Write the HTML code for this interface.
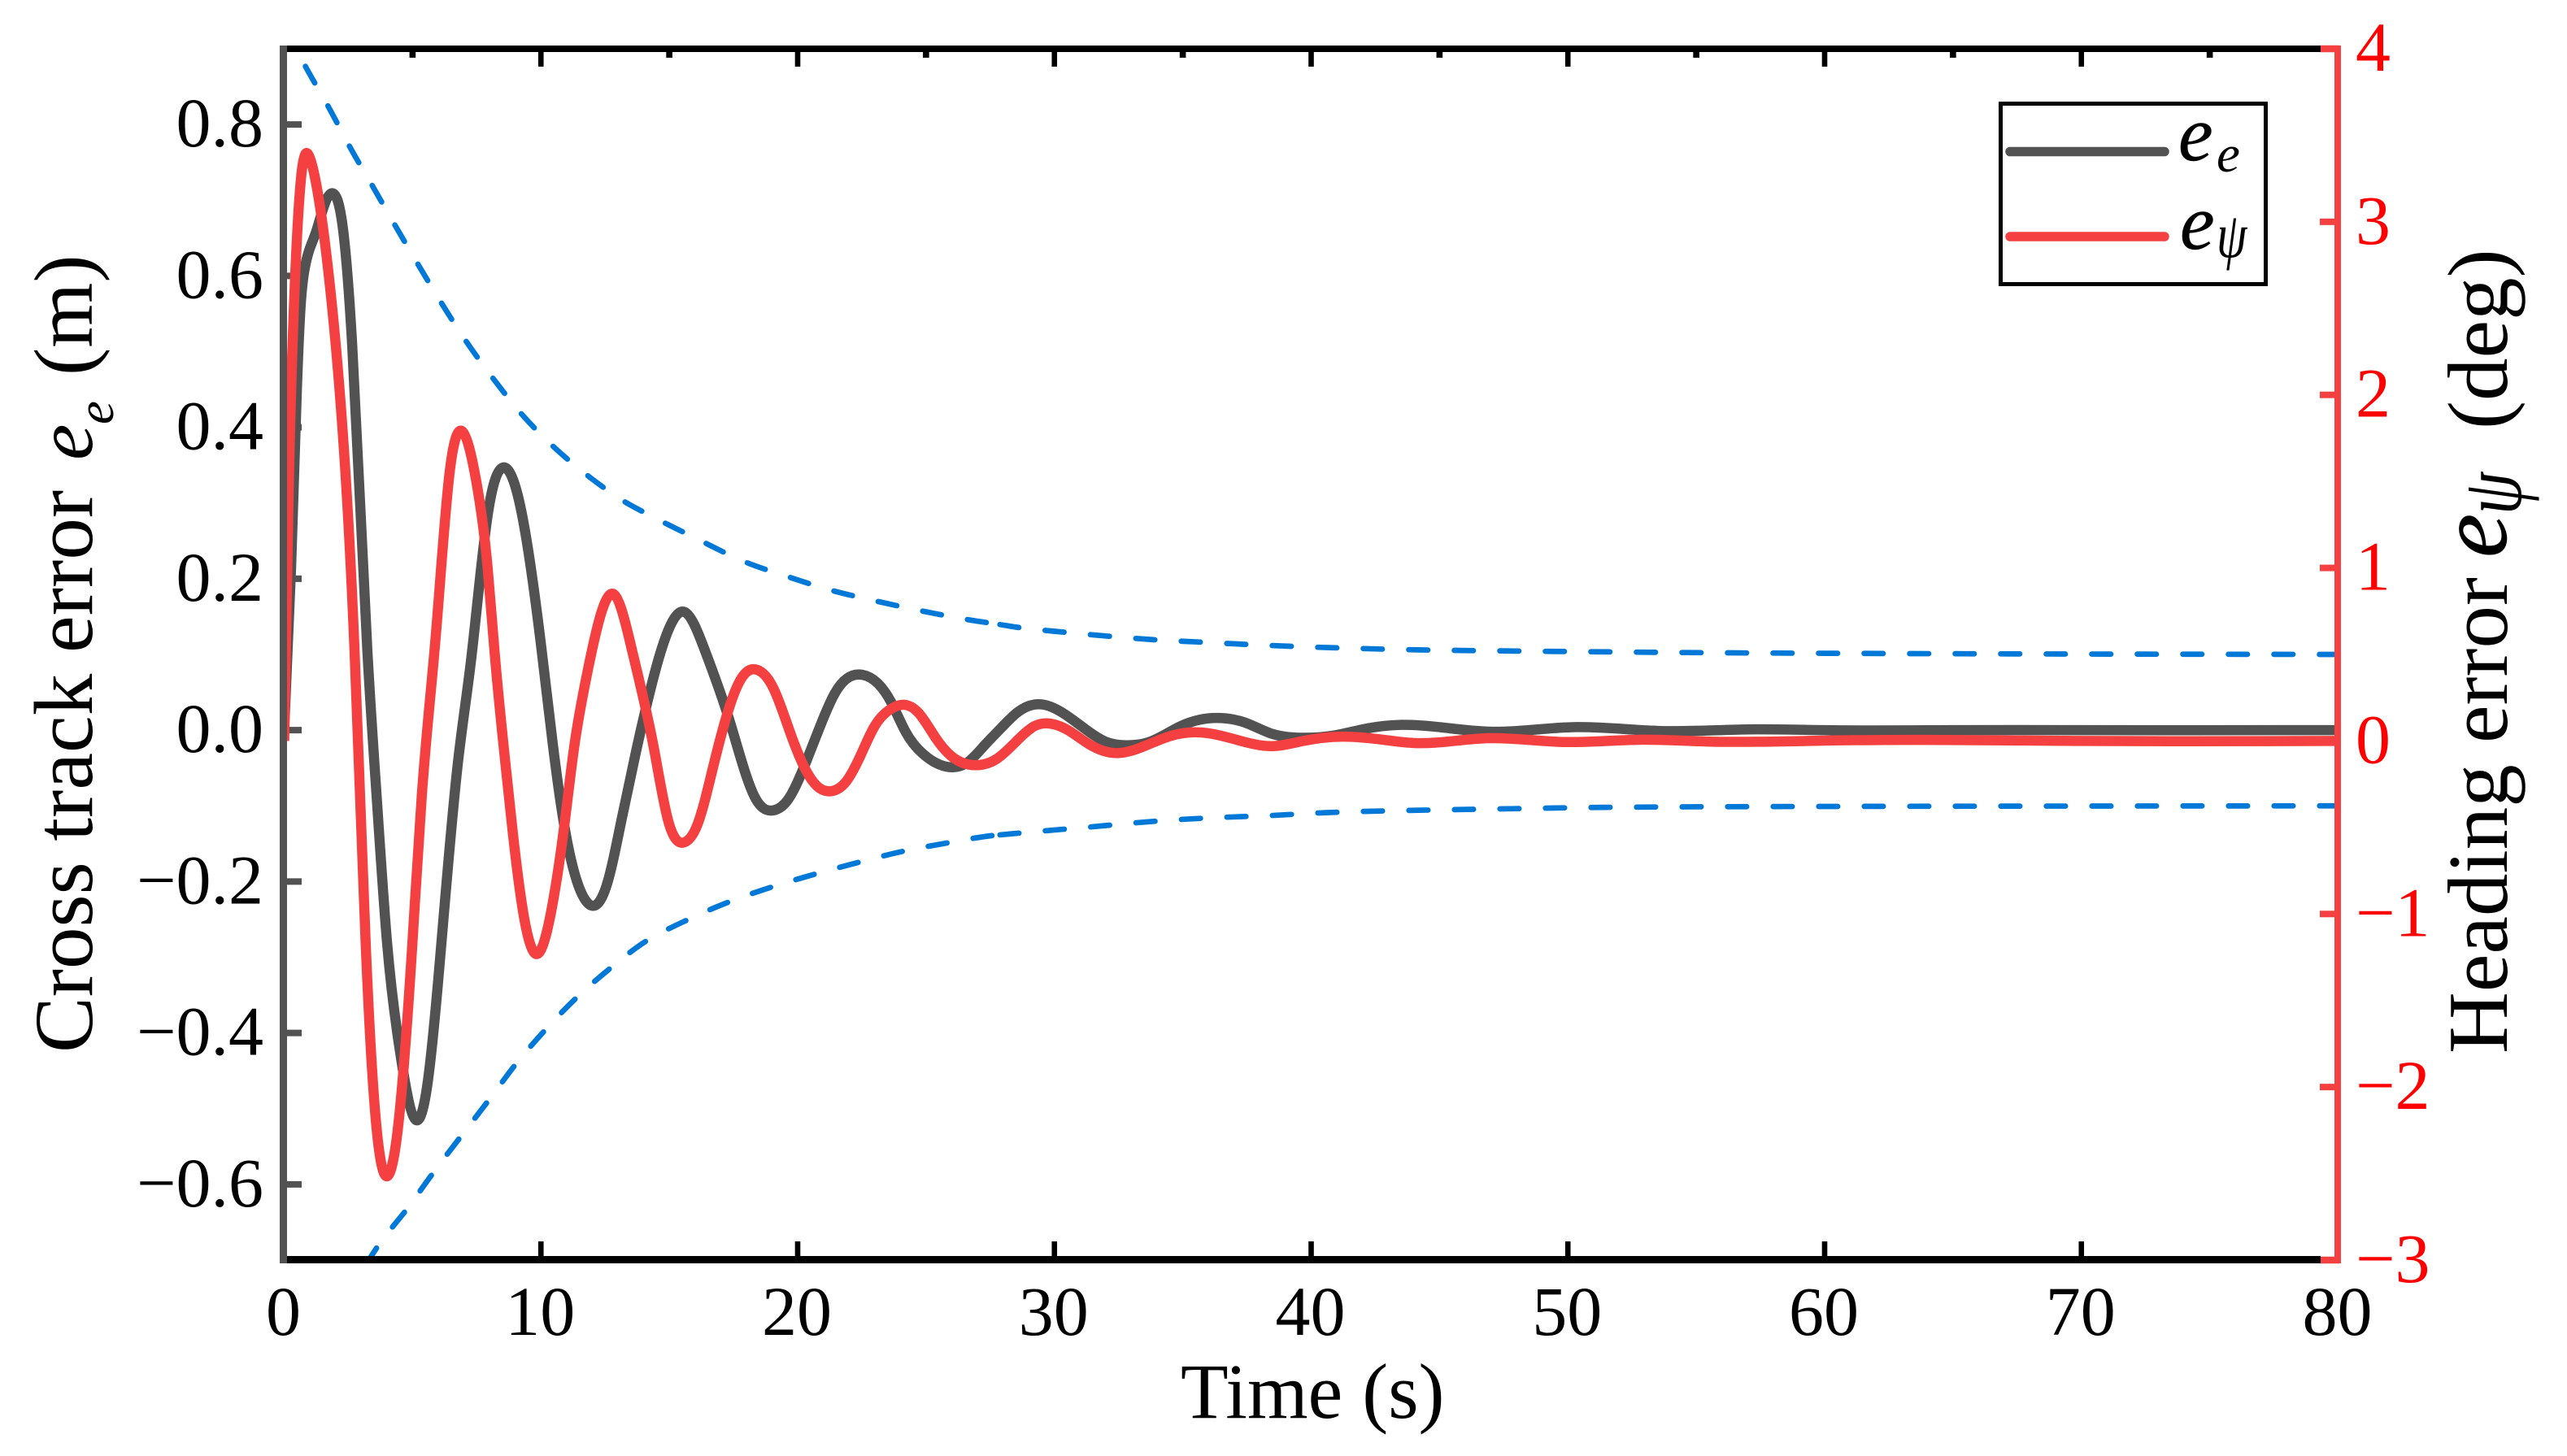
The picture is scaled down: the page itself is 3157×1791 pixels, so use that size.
<!DOCTYPE html>
<html lang="en">
<head>
<meta charset="utf-8">
<title>Cross track error and heading error over time</title>
<style>
html,body{margin:0;padding:0;background:#fff;}
svg{display:block;}
text{font-family:"Liberation Serif","DejaVu Serif",serif;fill:#000;}
</style>
</head>
<body>
<svg id="chart" xmlns="http://www.w3.org/2000/svg" width="3157" height="1791" viewBox="0 0 3157 1791">
  <defs>
    <clipPath id="plot-clip"><rect x="349" y="60" width="2526" height="1490"/></clipPath>
  </defs>
  <rect x="0" y="0" width="3157" height="1791" fill="#fff"/>
  <g id="ticks"></g>
  <g id="series" clip-path="url(#plot-clip)"></g>
  <g id="spines"></g>
  <g id="labels"></g>

  <g>
    <text transform="translate(113,1295) rotate(-90)" font-size="103">Cross track error</text>
    <text transform="translate(113,566) rotate(-90)" font-size="100" font-style="italic">e</text>
    <text transform="translate(139,522) rotate(-90)" font-size="65" font-style="italic">e</text>
    <text transform="translate(113,462) rotate(-90)" font-size="103">(m)</text>
  </g>
  <g>
    <text transform="translate(3083,1296) rotate(-90)" font-size="105">Heading error</text>
    <text transform="translate(3082,686) rotate(-90)" font-size="122" font-style="italic" stroke="#000" stroke-width="0.6">e</text>
    <text transform="translate(3100,633) rotate(-90) scale(0.95,1.2)" font-size="88" font-style="italic">ψ</text>
    <text transform="translate(3083,528) rotate(-90)" font-size="105">(deg)</text>
  </g>
  <text x="1452" y="1744" font-size="96">Time (s)</text>

  <g>
    <rect x="2460.5" y="127.5" width="326" height="222" fill="#fff" stroke="#000" stroke-width="5"/>
    <line x1="2472" y1="186.5" x2="2662" y2="186.5" stroke="#525252" stroke-width="11.5" stroke-linecap="round"/>
    <line x1="2472" y1="291" x2="2662" y2="291" stroke="#F44040" stroke-width="11.5" stroke-linecap="round"/>
    <text x="2679" y="197" font-size="96" font-style="italic" stroke="#000" stroke-width="0.5">e</text>
    <text x="2726" y="211" font-size="65" font-style="italic">e</text>
    <text x="2681" y="306" font-size="96" font-style="italic" stroke="#000" stroke-width="0.5">e</text>
    <text transform="translate(2726,316) scale(1,1.3)" font-size="60" font-style="italic">ψ</text>
  </g>
</svg>
<script>
// ---- axis tick values ----
const xTickValues = [0, 10, 20, 30, 40, 50, 60, 70, 80];
const xTickLabels = ['0', '10', '20', '30', '40', '50', '60', '70', '80'];
const xTopMinorValues = [5, 15, 25, 35, 45, 55, 65, 75];
const leftTickValues = [0.8, 0.6, 0.4, 0.2, 0.0, -0.2, -0.4, -0.6];
const leftTickLabels = ['0.8', '0.6', '0.4', '0.2', '0.0', '\u22120.2', '\u22120.4', '\u22120.6'];
const rightTickValues = [4, 3, 2, 1, 0, -1, -2, -3];
const rightTickLabels = ['4', '3', '2', '1', '0', '\u22121', '\u22122', '\u22123'];

// ---- cross track error e_e (m) ----
const crossTrackTime = [0, .27, .49, .64, .8, 1.22, 1.6, 1.9, 2.25, 2.65, 3.24, 3.6, 4.0, 4.5, 5.13, 5.57, 6.0, 6.76, 7.27, 7.93, 8.53, 9.1, 9.6, 10.03, 10.45, 10.88, 11.65, 12.05, 12.55, 13.13, 13.7, 14.68, 15.6, 16.39, 17.37, 18.37, 19.05, 19.64, 20.35, 20.92, 21.47, 22.53, 23.64, 24.2, 24.87, 25.98, 26.64, 27.28, 27.93, 28.58, 29.5, 30.36, 31.18, 31.98, 32.86, 33.75, 34.9, 36.5, 37.5, 38.4, 39.6, 40.9, 42.0, 43.5, 45, 46.9, 50.3, 53.5, 57, 60, 65, 70, 80];
const crossTrackError = [0, .216, .446, .56, .61, .656, .697, .709, .672, .508, .105, -.087, -.278, -.422, -.515, -.47, -.33, -.045, .09, .285, .347, .31, .216, .105, -.015, -.12, -.22, -.232, -.206, -.12, -.029, .105, .156, .105, .01, -.091, -.106, -.091, -.04, .009, .05, .073, .037, -.002, -.031, -.049, -.042, -.02, .003, .024, .034, .022, .002, -.015, -.02, -.015, .005, .016, .009, -.004, -.01, -.007, .001, .007, .004, -.002, .004, -.001, .001, 0, 0, 0, 0];

// ---- heading error e_psi (deg) ----
const headingTime = [0, .18, .39, .7, .97, 1.22, 1.81, 2.34, 2.74, 3.17, 3.65, 3.99, 4.37, 5.0, 5.36, 5.9, 6.44, 6.95, 7.51, 7.92, 8.19, 8.6, 8.9, 9.32, 9.86, 10.45, 10.88, 11.3, 11.72, 12.35, 12.85, 13.55, 14.41, 14.96, 15.6, 16.1, 16.68, 17.24, 17.8, 18.44, 19.07, 19.68, 20.25, 20.75, 21.32, 21.87, 22.44, 23.0, 23.58, 24.14, 24.71, 25.36, 25.98, 26.9, 27.77, 28.58, 29.23, 29.85, 30.52, 31.33, 32.45, 33.57, 34.56, 35.5, 36.5, 37.47, 38.4, 39.7, 41.2, 42.8, 44, 46.9, 49.8, 52.7, 55.4, 60, 70, 80];
const headingError = [0, 1.477, 2.55, 3.31, 3.38, 3.24, 2.59, 1.655, .523, -1.154, -2.31, -2.516, -2.31, -1.154, -.316, .6, 1.547, 1.787, 1.477, 1.007, .523, -.106, -.524, -1.0, -1.231, -.945, -.524, -.03, .33, .74, .847, .523, -.05, -.463, -.585, -.482, -.167, .148, .36, .41, .30, .06, -.149, -.26, -.29, -.238, -.087, .086, .18, .209, .162, .021, -.087, -.14, -.102, .007, .086, .1, .063, -.017, -.07, -.026, .03, .05, .03, -.008, -.03, 0, .025, .007, -.012, .016, -.006, .007, -.003, .002, 0, 0];

// ---- prescribed performance envelope (m) ----
const upperBoundTime = [0, .855, 1.73, 2.58, 3.47, 4.35, 5.27, 6.22, 7.14, 8.15, 9.26, 10.47, 11.83, 13.25, 14, 16, 18.04, 19.68, 21.39, 23.12, 24.9, 26.62, 28.74, 30.5, 32.3, 34.08, 35.85, 37.64, 39.4, 41.2, 44.2, 51.1, 55.3, 60, 70, 80];
const upperBound = [.93, .875, .823, .769, .717, .665, .612, .559, .511, .464, .417, .375, .336, .302, .288, .254, .221, .202, .184, .170, .157, .146, .135, .129, .1235, .119, .116, .113, .1105, .1085, .106, .1035, .1023, .1015, .1005, .1];
const lowerBoundTime = [0, 3.56, 4.86, 5.84, 6.92, 8.03, 9.07, 10.17, 11.37, 12.72, 14.13, 15.68, 17.24, 18.92, 20.59, 22.33, 24.11, 25.83, 27.65, 29.63, 31.37, 33.14, 34.92, 36.69, 38.43, 40.22, 42, 47.8, 51.4, 54.8, 60, 70, 80];
const lowerBound = [-.92, -.686, -.629, -.583, -.535, -.486, -.439, -.396, -.354, -.314, -.278, -.251, -.228, -.208, -.191, -.175, -.160, -.149, -.139, -.133, -.128, -.1225, -.118, -.115, -.1128, -.1095, -.1074, -.1038, -.102, -.1013, -.1008, -.1003, -.1];

// ---- axis functions ----
const plotLeft = 349.5, plotRight = 2875.5, plotTop = 60, plotBottom = 1550;
const boundBreakTime = 27.88;
function xScale(t) { return plotLeft + (t - 0) / (80 - 0) * (plotRight - plotLeft); }
function yLeft(v) { return plotBottom - (v - (-0.7)) / (0.9 - (-0.7)) * (plotBottom - plotTop); }
function yRight(v) { return plotBottom - (v - (-3)) / (4 - (-3)) * (plotBottom - plotTop); }

const NS = 'http://www.w3.org/2000/svg';
function make(tag, attrs, parent) {
  const el = document.createElementNS(NS, tag);
  for (const k in attrs) el.setAttribute(k, attrs[k]);
  parent.appendChild(el);
  return el;
}

function hermitePath(px, py, m) {
  let s = 'M' + px[0].toFixed(2) + ' ' + py[0].toFixed(2);
  for (let i = 0; i < px.length - 1; i++) {
    const h = (px[i + 1] - px[i]) / 3;
    s += 'C' + (px[i] + h).toFixed(2) + ' ' + (py[i] + m[i] * h).toFixed(2) + ' ' +
      (px[i + 1] - h).toFixed(2) + ' ' + (py[i + 1] - m[i + 1] * h).toFixed(2) + ' ' +
      px[i + 1].toFixed(2) + ' ' + py[i + 1].toFixed(2);
  }
  return s;
}

// monotone cubic path (envelope lines)
function monotonePath(px, py) {
  const n = px.length;
  if (n < 2) return '';
  const d = [], m = new Array(n);
  for (let i = 0; i < n - 1; i++) d.push((py[i + 1] - py[i]) / (px[i + 1] - px[i]));
  m[0] = d[0];
  m[n - 1] = d[n - 2];
  for (let i = 1; i < n - 1; i++) {
    if (d[i - 1] * d[i] <= 0) { m[i] = 0; continue; }
    const h0 = px[i] - px[i - 1], h1 = px[i + 1] - px[i];
    const w1 = 2 * h1 + h0, w2 = h1 + 2 * h0;
    m[i] = (w1 + w2) / (w1 / d[i - 1] + w2 / d[i]);
  }
  return hermitePath(px, py, m);
}

// C2 natural cubic spline path (oscillating response lines)
function splinePath(px, py) {
  const n = px.length;
  const a = new Array(n).fill(0), b = new Array(n).fill(0), c = new Array(n).fill(0), r = new Array(n).fill(0);
  const h = [], d = [];
  for (let i = 0; i < n - 1; i++) { h.push(px[i + 1] - px[i]); d.push((py[i + 1] - py[i]) / h[i]); }
  b[0] = 2; c[0] = 1; r[0] = 3 * d[0];
  b[n - 1] = 2; a[n - 1] = 1; r[n - 1] = 3 * d[n - 2];
  for (let i = 1; i < n - 1; i++) {
    a[i] = h[i];
    b[i] = 2 * (h[i - 1] + h[i]);
    c[i] = h[i - 1];
    r[i] = 3 * (h[i] * d[i - 1] + h[i - 1] * d[i]);
  }
  for (let i = 1; i < n; i++) {
    const w = a[i] / b[i - 1];
    b[i] -= w * c[i - 1];
    r[i] -= w * r[i - 1];
  }
  const m = new Array(n);
  m[n - 1] = r[n - 1] / b[n - 1];
  for (let i = n - 2; i >= 0; i--) m[i] = (r[i] - c[i] * m[i + 1]) / b[i];
  return hermitePath(px, py, m);
}

const seriesGroup = document.getElementById('series');
const tickGroup = document.getElementById('ticks');
const spineGroup = document.getElementById('spines');
const labelGroup = document.getElementById('labels');

// ---- dashed envelope: two runs, each restarting its dash pattern ----
function drawBound(times, values, name) {
  const before = [], after = [];
  times.forEach(function (t, i) {
    if (t <= boundBreakTime) before.push(i);
    if (t >= boundBreakTime) after.push(i);
  });
  const k = before[before.length - 1];
  const frac = (boundBreakTime - times[k]) / (times[k + 1] - times[k]);
  const vBreak = values[k] + frac * (values[k + 1] - values[k]);
  const xa = before.map(function (i) { return xScale(times[i]); }).concat([xScale(boundBreakTime)]);
  const ya = before.map(function (i) { return yLeft(values[i]); }).concat([yLeft(vBreak)]);
  const xb = [xScale(boundBreakTime)].concat(after.map(function (i) { return xScale(times[i]); }));
  const yb = [yLeft(vBreak)].concat(after.map(function (i) { return yLeft(values[i]); }));
  [[xa, ya, '-early'], [xb, yb, '-late']].forEach(function (run) {
    const p = make('path', {
      d: monotonePath(run[0], run[1]), fill: 'none', stroke: '#0078D7',
      'stroke-width': 6.7, 'stroke-linecap': 'round', 'stroke-dasharray': '23.4 32.6'
    }, seriesGroup);
    
    
  });
}
drawBound(upperBoundTime, upperBound, 'upper-bound-line');
drawBound(lowerBoundTime, lowerBound, 'lower-bound-line');

const grayLine = make('path', {
  d: splinePath(crossTrackTime.map(xScale), crossTrackError.map(yLeft)),
  fill: 'none', stroke: '#525252', 'stroke-width': 12.5, 'stroke-linejoin': 'round'
}, seriesGroup);



const redLine = make('path', {
  d: splinePath(headingTime.map(xScale), headingError.map(yRight)),
  fill: 'none', stroke: '#F44040', 'stroke-width': 12.5, 'stroke-linejoin': 'round'
}, seriesGroup);



// ---- ticks ----
xTickValues.forEach(function (t) {
  const x = xScale(t);
  if (t > 0 && t < 80) {
    const top = make('rect', { x: x - 3.3, y: 60, width: 6.6, height: 22, fill: '#000' }, tickGroup);
    
    
    const bot = make('rect', { x: x - 3.3, y: 1527, width: 6.6, height: 23, fill: '#000' }, tickGroup);
    
    
  }
});
xTopMinorValues.forEach(function (t) {
  const minor = make('rect', { x: xScale(t) - 3.8, y: 60, width: 7.6, height: 11, fill: '#000' }, tickGroup);
  
  
});
leftTickValues.forEach(function (v) {
  const tick = make('rect', { x: 349, y: yLeft(v) - 4, width: 22, height: 8, fill: '#525252' }, tickGroup);
  
  
});
rightTickValues.forEach(function (v) {
  const h = (v === 4 || v === -3) ? 8.5 : 8;
  const tick = make('rect', { x: 2853, y: yRight(v) - h / 2, width: 24, height: h, fill: '#F44040' }, spineGroup);
  
  
});

// ---- spines ----
const topSpine = make('rect', { x: 344, y: 56, width: 2510, height: 8, fill: '#000' }, spineGroup);


const bottomSpine = make('rect', { x: 344, y: 1545, width: 2510, height: 9, fill: '#000' }, spineGroup);


const leftSpine = make('rect', { x: 344, y: 56, width: 9, height: 1498, fill: '#525252' }, spineGroup);


const rightSpine = make('rect', { x: 2871, y: 56, width: 8, height: 1498, fill: '#F44040' }, spineGroup);



// ---- tick labels ----
xTickValues.forEach(function (t, i) {
  const label = make('text', { x: xScale(t) - 1, y: 1642, 'font-size': 86, 'text-anchor': 'middle' }, labelGroup);
  label.textContent = xTickLabels[i];
  
  
});
leftTickValues.forEach(function (v, i) {
  const label = make('text', { x: 324, y: yLeft(v) + 27, 'font-size': 86, 'text-anchor': 'end' }, labelGroup);
  label.textContent = leftTickLabels[i];
  
  
});
rightTickValues.forEach(function (v, i) {
  const label = make('text', { x: 2897, y: yRight(v) + 27, 'font-size': 86, 'text-anchor': 'start', style: 'fill:#ff0000' }, labelGroup);
  label.textContent = rightTickLabels[i];
  
  
});
</script>
</body>
</html>
